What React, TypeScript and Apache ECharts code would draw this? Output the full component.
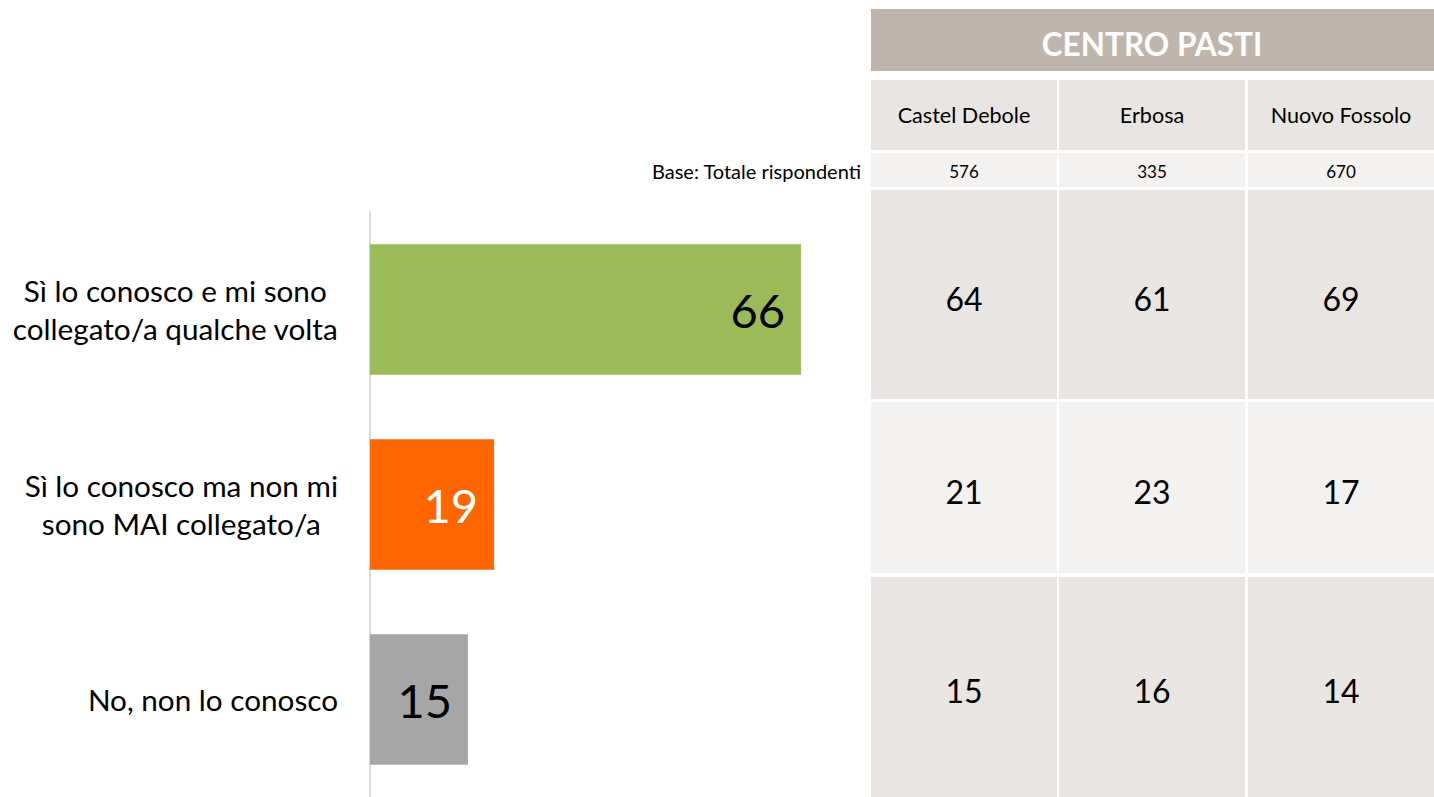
import React, { useEffect, useRef } from "react";
import * as echarts from "echarts";

const categories = [
  "Sì lo conosco e mi sono\ncollegato/a qualche volta",
  "Sì lo conosco ma non mi\nsono MAI collegato/a",
  "No, non lo conosco",
];
const totalValues = [66, 19, 15];
const barColors = ["#9BBB59", "#FF6600", "#A6A6A6"];
const labelColors = ["#000000", "#FFFFFF", "#000000"];

const tableTitle = "CENTRO PASTI";
const columns = ["Castel Debole", "Erbosa", "Nuovo Fossolo"];
const baseLabel = "Base: Totale rispondenti";
const baseValues = ["576", "335", "670"];
const columnValues = [
  [64, 21, 15],
  [61, 23, 16],
  [69, 17, 14],
];

const FONT = "Lato, 'Open Sans', sans-serif";

export default function App() {
  const ref = useRef<HTMLDivElement>(null);
  useEffect(() => {
    const chart = echarts.init(ref.current!, null, { renderer: "svg" });

    const colX = [871, 1059, 1248];
    const colW = [186, 186, 186];
    const rowsY = [190, 402, 577];
    const rowsH = [209, 171, 220];
    const rowFill = ["#E9E5E2", "#F3F2F0", "#E9E5E2"];
    const rowTextY = [298, 491, 690];

    const graphics: any[] = [];
    graphics.push({
      type: "rect",
      shape: { x: 871, y: 9, width: 563, height: 62 },
      style: { fill: "#BFB5AC" },
    });
    graphics.push({
      type: "text",
      x: 1152,
      y: 44,
      style: {
        text: tableTitle,
        fill: "#FFFFFF",
        font: `bold 31.5px ${FONT}`,
        align: "center",
        verticalAlign: "middle",
      },
    });
    columns.forEach((c, i) => {
      graphics.push({
        type: "rect",
        shape: { x: colX[i], y: 80, width: colW[i], height: 70 },
        style: { fill: "#E9E5E2" },
      });
      graphics.push({
        type: "text",
        x: colX[i] + colW[i] / 2,
        y: 115,
        style: {
          text: c,
          fill: "#000",
          font: `21.6px ${FONT}`,
          align: "center",
          verticalAlign: "middle",
        },
      });
      graphics.push({
        type: "rect",
        shape: { x: colX[i], y: 153, width: colW[i], height: 34 },
        style: { fill: "#F3F2F0" },
      });
      graphics.push({
        type: "text",
        x: colX[i] + colW[i] / 2,
        y: 171,
        style: {
          text: baseValues[i],
          fill: "#000",
          font: `17px ${FONT}`,
          align: "center",
          verticalAlign: "middle",
        },
      });
      columnValues[i].forEach((v, r) => {
        graphics.push({
          type: "rect",
          shape: { x: colX[i], y: rowsY[r], width: colW[i], height: rowsH[r] },
          style: { fill: rowFill[r] },
        });
        graphics.push({
          type: "text",
          x: colX[i] + colW[i] / 2,
          y: rowTextY[r],
          style: {
            text: String(v),
            fill: "#000",
            font: `32px ${FONT}`,
            align: "center",
            verticalAlign: "middle",
          },
        });
      });
    });
    graphics.push({
      type: "text",
      x: 861,
      y: 171,
      style: {
        text: baseLabel,
        fill: "#000",
        font: `20px ${FONT}`,
        align: "right",
        verticalAlign: "middle",
      },
    });

    chart.setOption({
      animation: false,
      grid: { left: 370, top: 212, width: 653, height: 588 },
      xAxis: {
        type: "value",
        min: 0,
        max: 100,
        show: false,
      },
      yAxis: {
        type: "category",
        data: categories,
        inverse: true,
        axisLine: { show: true, lineStyle: { color: "#D9D9D9", width: 2 } },
        axisTick: { show: false },
        splitLine: { show: false },
        axisLabel: {
          margin: 32,
          align: "right",
          formatter: (v: string) =>
            v
              .split("\n")
              .map((line) => `{c|${line}}`)
              .join("\n"),
          rich: {
            c: {
              align: "center",
              color: "#000",
              fontSize: 29.7,
              lineHeight: 38,
              fontFamily: FONT,
            },
          },
        },
      },
      series: [
        {
          type: "bar",
          barCategoryGap: "33%",
          data: totalValues.map((v, i) => ({
            value: v,
            itemStyle: { color: barColors[i] },
            label: { color: labelColors[i] },
          })),
          label: {
            show: true,
            position: "insideRight",
            distance: 16,
            fontSize: 47,
            fontFamily: FONT,
          },
        },
      ],
      graphic: graphics,
    });
    return () => chart.dispose();
  }, []);
  return (
    <div
      ref={ref}
      style={{ position: "fixed", left: 0, top: 0, width: 1434, height: 797, background: "#fff" }}
    />
  );
}
